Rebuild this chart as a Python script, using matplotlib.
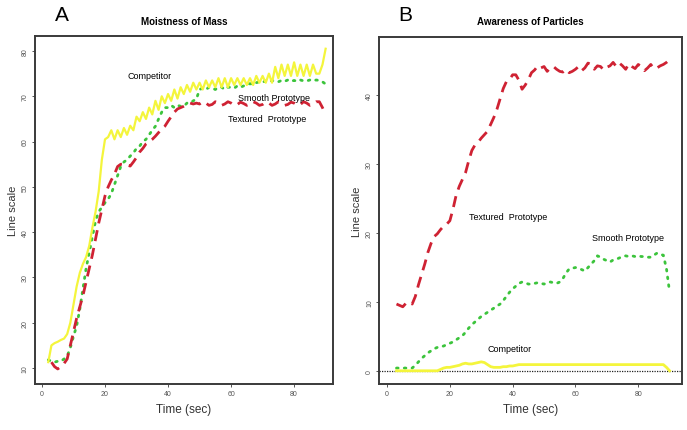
import numpy as np
import matplotlib
matplotlib.use('Agg')
import matplotlib.pyplot as plt

plt.rcParams['font.family'] = ['Liberation Sans', 'DejaVu Sans']

# Panel A - Moistness of Mass (t = 2..90 s)
time_a = np.arange(2, 91)
competitor_a = [11.3, 15.0, 15.5, 15.8, 16.2, 16.5, 17.5, 20.0, 24.0, 28.0,
                31.0, 33.0, 34.5, 37.0, 41.0, 44.5, 49.0, 56.0, 60.5, 61.0,
                62.5, 60.5, 62.5, 61.0, 63.0, 61.5, 63.5, 62.5, 65.5, 64.5,
                66.5, 65.0, 67.5, 66.0, 69.0, 67.0, 70.0, 68.5, 70.5, 69.0,
                71.5, 69.5, 72.0, 70.5, 72.5, 71.0, 73.0, 71.5, 73.0, 71.5,
                73.5, 72.0, 73.5, 72.0, 74.0, 72.0, 74.0, 72.0, 74.0, 72.5,
                74.0, 72.5, 74.0, 72.5, 74.0, 72.5, 74.5, 73.0, 74.5, 73.0,
                75.0, 73.0, 76.5, 74.0, 77.0, 74.5, 77.0, 74.5, 77.5, 74.5,
                77.0, 74.5, 77.0, 74.5, 77.0, 75.0, 75.0, 77.0, 80.5]
smooth_a = [11.8, 11.5, 11.3, 11.5, 11.5, 12.0, 12.6, 14.5, 17.0, 19.3,
            23.0, 27.5, 32.0, 35.5, 39.0, 42.5, 44.5, 45.5, 46.5, 47.3,
            48.5, 50.5, 52.5, 54.5, 55.5, 56.0, 56.8, 57.5, 58.5, 59.0,
            60.0, 60.5, 61.5, 62.5, 63.4, 65.0, 66.5, 67.5, 67.5, 68.0,
            67.5, 68.0, 67.8, 67.8, 68.5, 68.5, 69.0, 69.4, 71.5, 71.8,
            71.5, 72.0, 71.8, 71.5, 72.0, 72.0, 71.5, 72.0, 72.0, 71.8,
            72.3, 72.0, 72.3, 72.5, 72.8, 72.6, 73.0, 73.2, 73.1, 73.4,
            73.2, 73.5, 73.3, 73.2, 73.5, 73.3, 73.6, 73.3, 73.5, 73.3,
            73.6, 73.4, 73.4, 73.6, 73.4, 73.6, 73.5, 73.2, 72.7]
time_a_tex = np.arange(3, 91)
textured_a = [11.3, 10.3, 9.8, 10.3, 11.0, 12.0, 15.0, 18.0, 21.0, 23.5,
              26.0, 29.0, 32.0, 35.0, 38.5, 42.0, 45.0, 48.0, 50.0, 51.5,
              52.8, 54.5, 55.0, 55.0, 54.8, 54.6, 55.5, 56.5, 57.7, 58.5,
              59.5, 60.0, 60.5, 61.2, 62.0, 62.8, 63.4, 64.5, 65.5, 66.5,
              67.2, 67.5, 67.8, 68.2, 68.5, 68.3, 68.5, 68.3, 68.8, 68.5,
              68.0, 68.2, 68.8, 68.5, 68.0, 68.3, 68.8, 68.5, 68.0, 68.2,
              68.7, 68.4, 68.0, 68.3, 68.8, 68.5, 68.0, 68.2, 68.7, 68.5,
              68.0, 68.3, 68.8, 68.5, 68.0, 68.2, 68.7, 68.5, 68.0, 68.2,
              68.8, 68.5, 68.0, 68.3, 68.8, 68.8, 67.5, 66.0]

# Panel B - Awareness of Particles (t = 3..90 s)
time_b = np.arange(3, 91)
textured_b = [9.7, 9.5, 9.3, 9.8, 10.0, 9.7, 10.8, 12.5, 14.0, 15.5,
              17.2, 18.5, 19.5, 19.9, 20.5, 21.0, 21.3, 21.8, 23.5, 25.5,
              26.8, 27.8, 28.8, 30.5, 32.0, 32.8, 33.2, 33.8, 34.3, 34.8,
              35.8, 36.8, 38.0, 39.5, 41.0, 42.0, 42.3, 43.0, 43.0, 42.2,
              40.9, 41.5, 42.3, 43.3, 43.7, 44.3, 44.0, 44.2, 43.5, 44.0,
              44.2, 43.8, 43.5, 43.4, 43.8, 43.3, 43.5, 43.8, 44.2, 43.6,
              44.0, 44.7, 44.5, 43.8, 44.3, 44.2, 43.7, 44.1, 44.3, 44.8,
              44.2, 44.7, 44.3, 43.8, 44.6, 44.2, 43.9, 44.5, 44.2, 43.6,
              44.0, 44.5, 43.9, 44.0, 44.3, 44.5, 44.8, 45.2]
smooth_b = [0.4, 0.4, 0.4, 0.4, 0.4, 0.4, 0.8, 1.3, 1.8, 2.2,
            2.6, 2.9, 3.2, 3.4, 3.5, 3.6, 3.8, 4.0, 4.2, 4.5,
            4.8, 5.1, 5.6, 6.2, 6.7, 7.1, 7.5, 7.9, 8.2, 8.5,
            8.8, 9.1, 9.4, 9.7, 10.2, 10.8, 11.4, 11.9, 12.3, 12.7,
            12.9, 12.8, 12.6, 12.6, 12.7, 12.8, 12.7, 12.6, 12.8, 12.9,
            12.8, 12.7, 12.9, 13.4, 14.2, 14.8, 14.9, 15.0, 14.9, 14.7,
            14.5, 15.0, 15.5, 16.0, 16.7, 16.5, 16.2, 16.0, 15.8, 16.1,
            16.2, 16.4, 16.6, 16.7, 16.6, 16.7, 16.6, 16.7, 16.6, 16.6,
            16.5, 16.5, 16.8, 17.1, 16.9, 16.8, 14.8, 11.4]
competitor_b = [0.0, 0.0, 0.0, 0.0, 0.0, 0.0, 0.0, 0.0, 0.0, 0.0,
                0.0, 0.0, 0.0, 0.0, 0.2, 0.4, 0.5, 0.5, 0.6, 0.7,
                0.8, 1.0, 1.1, 1.0, 1.0, 1.1, 1.2, 1.3, 1.2, 0.9,
                0.6, 0.5, 0.5, 0.5, 0.6, 0.6, 0.7, 0.7, 0.8, 0.9,
                0.9, 0.9, 0.9, 0.9, 0.9, 0.9, 0.9, 0.9, 0.9, 0.9,
                0.9, 0.9, 0.9, 0.9, 0.9, 0.9, 0.9, 0.9, 0.9, 0.9,
                0.9, 0.9, 0.9, 0.9, 0.9, 0.9, 0.9, 0.9, 0.9, 0.9,
                0.9, 0.9, 0.9, 0.9, 0.9, 0.9, 0.9, 0.9, 0.9, 0.9,
                0.9, 0.9, 0.9, 0.9, 0.9, 0.9, 0.5, 0.0]

yellow = '#f4f53c'
red = '#cf2233'
green = '#3cc43c'
frame = '#3a3a3a'

fig = plt.figure(figsize=(6.87, 4.31), dpi=100)
ax_a = fig.add_axes([0.051, 0.107, 0.434, 0.807])
ax_b = fig.add_axes([0.552, 0.107, 0.441, 0.805])


def style_axes(ax):
    for sp in ax.spines.values():
        sp.set_color(frame)
        sp.set_linewidth(1.4)
    ax.tick_params(axis='both', length=2.5, width=0.6, color=frame,
                   labelsize=5, labelcolor='#555555', pad=2)
    for lab in ax.get_yticklabels():
        lab.set_rotation(90)
        lab.set_va('center')
    ax.set_xticks([0, 20, 40, 60, 80])
    ax.set_xlabel('Time (sec)', fontsize=8.5, labelpad=4, color='#333333')
    ax.set_ylabel('Line scale', fontsize=8, labelpad=3, color='#333333')


# --- A ---
ax_a.plot(time_a, competitor_a, color=yellow, lw=1.6, zorder=3)
ax_a.plot(time_a, smooth_a, color=green, lw=2.0, linestyle=(0, (0.6, 2.2)),
          dash_capstyle='round', zorder=2)
ax_a.plot(time_a_tex, textured_a, color=red, lw=2.0, linestyle=(0, (4, 2.5)),
          zorder=2)
ax_a.set_xlim(-2.2, 92.4)
ax_a.set_ylim(6.5, 83.3)
ax_a.set_yticks([10, 20, 30, 40, 50, 60, 70, 80])
style_axes(ax_a)
ax_a.text(34, 74.5, 'Competitor', fontsize=6.5, ha='center', va='center')
ax_a.text(73.6, 69.8, 'Smooth Prototype', fontsize=6.5, ha='center', va='center')
ax_a.text(71.5, 65.0, 'Textured  Prototype', fontsize=6.5, ha='center', va='center')
ax_a.set_title('Moistness of Mass', fontsize=7, fontweight='bold', pad=9)
fig.text(0.09, 0.965, 'A', fontsize=15, ha='center', va='center')

# --- B ---
ax_b.axhline(0, color='#222222', lw=0.9, linestyle=(0, (1, 1)), zorder=1)
ax_b.plot(time_b, competitor_b, color=yellow, lw=2.0, zorder=3)
ax_b.plot(time_b, smooth_b, color=green, lw=2.0, linestyle=(0, (0.6, 2.2)),
          dash_capstyle='round', zorder=2)
ax_b.plot(time_b, textured_b, color=red, lw=2.0, linestyle=(0, (4, 2.5)),
          zorder=2)
ax_b.set_xlim(-2.5, 94)
ax_b.set_ylim(-1.9, 48.5)
ax_b.set_yticks([0, 10, 20, 30, 40])
style_axes(ax_b)
ax_b.text(38.6, 22.4, 'Textured  Prototype', fontsize=6.5, ha='center', va='center')
ax_b.text(76.8, 19.3, 'Smooth Prototype', fontsize=6.5, ha='center', va='center')
ax_b.text(39, 3.2, 'Competitor', fontsize=6.5, ha='center', va='center')
ax_b.set_title('Awareness of Particles', fontsize=7, fontweight='bold', pad=9)
fig.text(0.59, 0.965, 'B', fontsize=15, ha='center', va='center')

fig.savefig('out.png', dpi=100)
